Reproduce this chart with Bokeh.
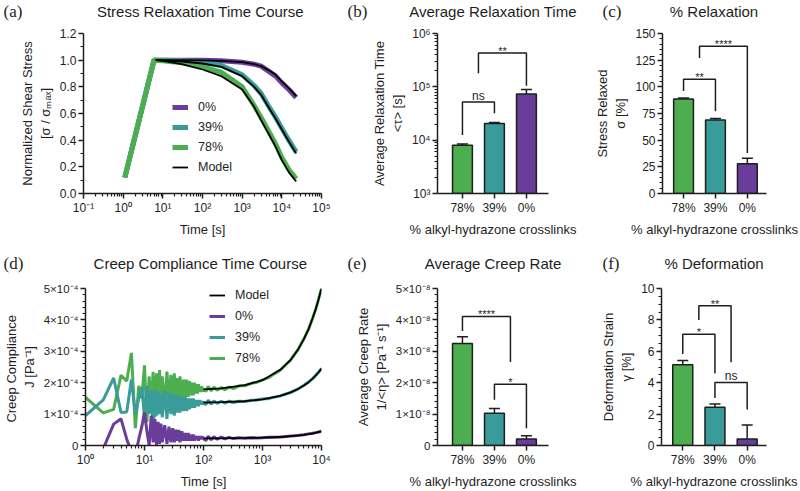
from bokeh.plotting import figure
from bokeh.layouts import row, column
from bokeh.models import (ColumnDataSource, Whisker, TeeHead, FixedTicker,
                          Legend, LegendItem, PrintfTickFormatter)
from bokeh.embed import file_html
from bokeh.resources import INLINE
from bokeh.core.properties import value

FONT = "Liberation Sans"
SERIF = "Liberation Serif"
PURPLE = "#6B3D9A"
TEAL = "#3A9B9B"
GREEN = "#4DAE4F"
INK = "#1E1E1E"

# ---------------- data ----------------
groups = ["78%", "39%", "0%"]
bar_colors = [GREEN, TEAL, PURPLE]

panel_letters = ["(a)", "(b)", "(c)", "(d)", "(e)", "(f)"]
panel_titles = ["Stress  Relaxation Time Course", "Average Relaxation Time", "% Relaxation",
                "Creep  Compliance Time Course", "Average Creep Rate", "% Deformation"]

# (a) stress relaxation, normalized stress
relax_time = [1.1, 6, 10, 30, 100, 300, 1000, 2000, 3000, 5000, 7000, 10000, 15000, 23000]
relax_0 = [0.12, 1.00, 1.00, 1.00, 1.00, 0.995, 0.985, 0.97, 0.955, 0.91, 0.88, 0.83, 0.78, 0.72]
relax_39 = [0.12, 1.00, 1.00, 0.995, 0.985, 0.96, 0.89, 0.81, 0.75, 0.64, 0.57, 0.49, 0.40, 0.31]
relax_78 = [0.12, 1.00, 0.995, 0.98, 0.95, 0.91, 0.80, 0.66, 0.57, 0.45, 0.37, 0.27, 0.18, 0.11]
relax_model_time = [6.6, 10, 30, 100, 300, 1000, 2000, 3000, 5000, 7000, 10000, 15000, 23000]
relax_model_0 = [1.0, 1.0, 1.0, 0.998, 0.995, 0.985, 0.97, 0.955, 0.92, 0.89, 0.84, 0.79, 0.73]
relax_model_39 = [1.0, 0.998, 0.99, 0.975, 0.95, 0.88, 0.80, 0.74, 0.63, 0.56, 0.48, 0.39, 0.30]
relax_model_78 = [1.0, 0.995, 0.97, 0.93, 0.88, 0.78, 0.65, 0.55, 0.43, 0.35, 0.25, 0.16, 0.09]

# (b) average relaxation time [s]
tau = [8.0e3, 2.05e4, 7.3e4]
tau_err = [8.5e3, 2.15e4, 8.9e4]
tau_brackets = dict(left=[0, 0.5], right=[1, 2], top=[5.2e4, 4.3e5],
                    left_end=[1.25e4, 1.8e5], right_end=[3.2e4, 1.05e5], label=["ns", "**"])

# (c) stress relaxed [%]
relaxed = [88.5, 69.0, 28.0]
relaxed_err = [89.5, 70.3, 33.0]
relaxed_brackets = dict(left=[0, 0.5], right=[1, 2], top=[107, 138],
                        left_end=[96, 127], right_end=[77, 38], label=["**", "****"])

# (d) creep compliance [x1e-4 Pa^-1]
creep_time = [1, 2, 3, 4, 5, 6, 7, 8, 9, 10, 11, 12, 13, 14, 15, 16, 17, 18, 19, 20,
              22, 24, 26, 28, 30, 32, 34, 36, 38, 40,
              43, 46, 49, 52, 55, 58, 61, 64, 67, 70, 73, 76, 79, 82, 85, 88, 91, 94, 97,
              100, 110, 120, 135, 150, 170, 200, 230, 270, 320, 400, 500, 650, 800, 1000,
              1300, 1600, 2000, 2500, 3000, 3500, 4000, 5000, 6000, 7000, 8000, 9000, 10000]
creep_78 = [1.53, 1.04, 1.15, 2.24, 2.05, 2.95, 0.55, 1.90, 1.50, 2.55, 0.75, 2.20, 1.20, 2.35, 0.90, 2.30, 1.10, 2.40, 1.30, 2.20,
            1.20, 2.35, 1.30, 2.25, 1.40, 2.30, 1.35, 2.15, 1.50, 2.20,
            1.45, 2.10, 1.50, 2.10, 1.55, 2.05, 1.60, 2.00, 1.60, 2.00, 1.65, 1.95, 1.65, 1.95, 1.70, 1.90, 1.70, 1.88, 1.72,
            1.80, 1.72, 1.88, 1.74, 1.86, 1.76, 1.85, 1.78, 1.86, 1.81, 1.90, 1.90, 1.98, 2.01, 2.09,
            2.17, 2.29, 2.40, 2.58, 2.72, 2.90, 3.05, 3.39, 3.69, 4.04, 4.34, 4.69, 5.00]
creep_39 = [0.95, 1.45, 2.15, 1.05, 1.07, 2.10, 1.00, 1.50, 1.85, 0.90, 1.90, 1.00, 1.75, 0.65, 1.80, 0.95, 1.70, 1.00, 1.65, 0.90,
            1.75, 0.85, 1.70, 1.00, 1.65, 0.95, 1.60, 1.05, 1.60, 1.05,
            1.55, 1.10, 1.55, 1.10, 1.50, 1.15, 1.50, 1.20, 1.50, 1.20, 1.45, 1.25, 1.45, 1.25, 1.45, 1.30, 1.42, 1.30, 1.40,
            1.35, 1.30, 1.44, 1.32, 1.42, 1.34, 1.41, 1.35, 1.41, 1.37, 1.41, 1.40, 1.44, 1.45, 1.48,
            1.50, 1.54, 1.58, 1.64, 1.69, 1.75, 1.80, 1.91, 2.02, 2.12, 2.24, 2.34, 2.46]
creep_0 = [-0.50, -0.10, 0.68, 0.85, 0.20, -0.20, -0.30, 0.20, 0.60, 1.05, 0.45, 0.00, 0.95, 0.10, 0.85, 0.00, 0.75, 0.05, 0.70, 0.10,
           0.65, 0.05, 0.60, 0.10, 0.55, 0.10, 0.50, 0.15, 0.50, 0.10,
           0.45, 0.15, 0.40, 0.15, 0.40, 0.15, 0.35, 0.15, 0.35, 0.15, 0.30, 0.20, 0.30, 0.15, 0.30, 0.20, 0.30, 0.20, 0.28,
           0.22, 0.16, 0.30, 0.18, 0.28, 0.20, 0.27, 0.21, 0.26, 0.22, 0.25, 0.23, 0.25, 0.24, 0.25,
           0.26, 0.26, 0.27, 0.29, 0.30, 0.31, 0.32, 0.34, 0.37, 0.39, 0.41, 0.43, 0.46]
creep_model_time = [100, 200, 500, 1000, 2000, 3000, 4000, 5000, 6000, 7000, 8000, 9000, 10000]
creep_model_78 = [1.79, 1.82, 1.92, 2.08, 2.41, 2.73, 3.06, 3.38, 3.70, 4.03, 4.35, 4.68, 5.00]
creep_model_39 = [1.37, 1.38, 1.41, 1.47, 1.58, 1.69, 1.80, 1.91, 2.01, 2.12, 2.23, 2.34, 2.45]
creep_model_0 = [0.23, 0.23, 0.24, 0.25, 0.27, 0.30, 0.32, 0.34, 0.36, 0.38, 0.41, 0.43, 0.45]

# (e) average creep rate [x1e-8 Pa^-1 s^-1]
creep_rate = [3.25, 1.03, 0.21]
creep_rate_err = [3.46, 1.18, 0.31]
rate_brackets = dict(left=[0, 1], right=[1.5, 2], top=[4.11, 1.95],
                     left_end=[3.65, 1.46], right_end=[2.66, 0.55], label=["****", "*"])

# (f) deformation strain [%]
strain = [5.15, 2.44, 0.42]
strain_err = [5.42, 2.65, 1.31]
strain_brackets = dict(left=[0, 0.5, 1], right=[1, 1.5, 2], top=[7.08, 8.9, 4.02],
                       left_end=[5.83, 8.0, 3.02], right_end=[4.58, 5.3, 2.3], label=["*", "**", "ns"])

SUP = str.maketrans("-0123456789", "⁻⁰¹²³⁴⁵⁶⁷⁸⁹")


def sup(s):
    return str(s).translate(SUP)


# ---------------- layout constants (pixels) ----------------
COL_LEFT = [83, 97, 69]      # left borders of the three columns
COL_FRAME = [238, 111, 105]  # frame widths
COL_RIGHT = [19, 44, 34]     # right borders
COL_W = [l + f + r for l, f, r in zip(COL_LEFT, COL_FRAME, COL_RIGHT)]
COL_X = [0, COL_W[0], COL_W[0] + COL_W[1]]
LETTER_DX = [3, 7, 10]
HEAD1_H, HEAD2_H = 22, 31
ROW1 = (11, 160, 51)   # top border, frame height, bottom border
ROW2 = (13, 158, 45)


# ---------------- helpers ----------------
def make_fig(col, rowspec, **kw):
    top, fh, bottom = rowspec
    p = figure(width=COL_W[col], height=top + fh + bottom, output_backend="svg", toolbar_location=None,
               min_border_left=COL_LEFT[col], min_border_right=COL_RIGHT[col], min_border_top=top,
               min_border_bottom=bottom, **kw)
    p.outline_line_color = None
    p.xgrid.visible = False
    p.ygrid.visible = False
    for ax in p.axis:
        ax.axis_line_color = INK
        ax.axis_line_width = 1.5
        ax.major_tick_line_color = INK
        ax.major_tick_line_width = 1.5
        ax.minor_tick_line_color = INK
        ax.minor_tick_line_width = 1.2
        ax.major_tick_in = 0
        ax.major_tick_out = 5
        ax.minor_tick_in = 0
        ax.minor_tick_out = 3
        ax.major_label_text_font = FONT
        ax.major_label_text_font_size = "12px"
        ax.major_label_text_color = INK
        ax.major_label_standoff = 2
        ax.axis_label_text_font = FONT
        ax.axis_label_text_font_size = "13px"
        ax.axis_label_text_font_style = "normal"
        ax.axis_label_text_color = INK
        ax.axis_label_standoff = 4
    return p


def heading_strip(height, letters, titles, center_from_top):
    h = figure(width=sum(COL_W), height=height, x_range=(0, sum(COL_W)), y_range=(0, height),
               output_backend="svg", toolbar_location=None, min_border=0,
               x_axis_location=None, y_axis_location=None)
    h.outline_line_color = None
    h.xgrid.visible = False
    h.ygrid.visible = False
    yc = height - center_from_top
    h.text(x=[cx + dx for cx, dx in zip(COL_X, LETTER_DX)], y=[yc] * 3, text=letters,
           text_font=value(SERIF), text_font_size=value("17px"), text_color=INK,
           text_align="left", text_baseline="middle")
    h.text(x=[cx + l + f / 2 for cx, l, f in zip(COL_X, COL_LEFT, COL_FRAME)], y=[yc] * 3, text=titles,
           text_font=value(FONT), text_font_size=value("15px"), text_color=INK,
           text_align="center", text_baseline="middle")
    return h


def bars(p, vals, errs, bottom):
    src = ColumnDataSource(dict(x=[0, 1, 2], top=vals, err=errs, color=bar_colors))
    p.vbar(x="x", top="top", bottom=bottom, width=0.62, source=src, fill_color="color",
           line_color=INK, line_width=1.5)
    p.add_layout(Whisker(source=src, base="x", lower="top", upper="err", line_color=INK,
                         line_width=1.5, lower_head=None,
                         upper_head=TeeHead(size=11, line_color=INK, line_width=1.5)))
    p.xaxis.ticker = FixedTicker(ticks=[0, 1, 2])
    p.xaxis.major_label_overrides = {i: g for i, g in enumerate(groups)}
    p.xaxis.axis_label = "% alkyl-hydrazone crosslinks"


def brackets(p, br):
    xs = [[l, l, r, r] for l, r in zip(br["left"], br["right"])]
    ys = [[le, t, t, re] for le, t, re in zip(br["left_end"], br["top"], br["right_end"])]
    p.multi_line(xs=xs, ys=ys, line_color=INK, line_width=1.5)
    for l, r, t, lab in zip(br["left"], br["right"], br["top"], br["label"]):
        p.text(x=[(l + r) / 2], y=[t], text=[lab], text_align="center",
               text_baseline="alphabetic", y_offset=-6 if lab == "ns" else -2,
               text_font=value(FONT),
               text_font_size=value("12px" if lab == "ns" else "11px"), text_color=INK)


def style_legend(leg, loc, spacing):
    leg.location = loc
    leg.background_fill_alpha = 0
    leg.border_line_alpha = 0
    leg.padding = 0
    leg.margin = 0
    leg.spacing = spacing
    leg.label_height = 18
    leg.glyph_height = 18
    leg.glyph_width = 16
    leg.label_standoff = 10
    leg.label_text_font = FONT
    leg.label_text_font_size = "12.5px"
    leg.label_text_color = INK


# ---------------- (a) ----------------
pa = make_fig(0, ROW1, x_axis_type="log", x_range=(0.1, 1e5), y_range=(0, 1.2))
a_decades = [-1, 0, 1, 2, 3, 4, 5]
pa.xaxis.ticker = FixedTicker(ticks=[10.0 ** e for e in a_decades],
                              minor_ticks=[m * 10.0 ** e for e in a_decades[:-1] for m in range(2, 10)])
pa.xaxis.major_label_overrides = {10.0 ** e: "10" + sup(e) for e in a_decades}
pa.yaxis.ticker = FixedTicker(ticks=[i / 10 for i in range(0, 13, 2)],
                              minor_ticks=[i / 10 for i in range(1, 12, 2)])
pa.yaxis.formatter = PrintfTickFormatter(format="%.1f")
pa.xaxis.axis_label = "Time [s]"
pa.yaxis.axis_label = "Normalized Shear Stress\n[σ / σₘₐₓ]"
r0 = pa.line(relax_time, relax_0, line_color=PURPLE, line_width=5)
r39 = pa.line(relax_time, relax_39, line_color=TEAL, line_width=5)
r78 = pa.line(relax_time, relax_78, line_color=GREEN, line_width=5)
rm = None
for ys in (relax_model_0, relax_model_39, relax_model_78):
    rm = pa.line(relax_model_time, ys, line_color="black", line_width=1.8)
leg_a = Legend(items=[LegendItem(label="0%", renderers=[r0]), LegendItem(label="39%", renderers=[r39]),
                      LegendItem(label="78%", renderers=[r78]), LegendItem(label="Model", renderers=[rm])])
style_legend(leg_a, (89, 17), 2)
pa.add_layout(leg_a)

# ---------------- (b) ----------------
pb = make_fig(1, ROW1, y_axis_type="log", x_range=(-0.78, 2.69), y_range=(1e3, 1e6))
b_decades = [3, 4, 5, 6]
pb.yaxis.ticker = FixedTicker(ticks=[10.0 ** e for e in b_decades],
                              minor_ticks=[m * 10.0 ** e for e in b_decades[:-1] for m in range(2, 10)])
pb.yaxis.major_label_overrides = {10.0 ** e: "10" + sup(e) for e in b_decades}
pb.yaxis.axis_label = "Average Relaxation Time\n<τ> [s]"
bars(pb, tau, tau_err, 1e3)
brackets(pb, tau_brackets)

# ---------------- (c) ----------------
pc = make_fig(2, ROW1, x_range=(-0.66, 2.6), y_range=(0, 150))
pc.yaxis.ticker = FixedTicker(ticks=list(range(0, 151, 25)),
                              minor_ticks=[v for v in range(0, 151, 5) if v % 25])
pc.yaxis.axis_label = "Stress Relaxed\nσ [%]"
bars(pc, relaxed, relaxed_err, 0)
brackets(pc, relaxed_brackets)

# ---------------- (d) ----------------
pd_ = make_fig(0, ROW2, x_axis_type="log", x_range=(1, 1e4), y_range=(0, 5))
d_decades = [0, 1, 2, 3, 4]
pd_.xaxis.ticker = FixedTicker(ticks=[10.0 ** e for e in d_decades],
                               minor_ticks=[m * 10.0 ** e for e in d_decades[:-1] for m in range(2, 10)])
pd_.xaxis.major_label_overrides = {10.0 ** e: "10" + sup(e) for e in d_decades}
pd_.yaxis.ticker = FixedTicker(ticks=[0, 1, 2, 3, 4, 5], minor_ticks=[i / 5 for i in range(26) if i % 5])
pd_.yaxis.major_label_overrides = {0: "0", **{k: f"{k}×10" + sup(-4) for k in range(1, 6)}}
pd_.yaxis.major_label_text_font_size = "11.5px"
pd_.xaxis.axis_label = "Time [s]"
pd_.yaxis.axis_label = "Creep  Compliance\nJ [Pa" + sup(-1) + "]"
d78 = pd_.line(creep_time, creep_78, line_color=GREEN, line_width=3)
d39 = pd_.line(creep_time, creep_39, line_color=TEAL, line_width=3)
d0 = pd_.line(creep_time, creep_0, line_color=PURPLE, line_width=3)
dm = None
for ys in (creep_model_78, creep_model_39, creep_model_0):
    dm = pd_.line(creep_model_time, ys, line_color="black", line_width=1.8)
leg_d = Legend(items=[LegendItem(label="Model", renderers=[dm]), LegendItem(label="0%", renderers=[d0]),
                      LegendItem(label="39%", renderers=[d39]), LegendItem(label="78%", renderers=[d78])])
style_legend(leg_d, (124, 78), 3)
pd_.add_layout(leg_d)

# ---------------- (e) ----------------
pe = make_fig(1, ROW2, x_range=(-0.78, 2.69), y_range=(0, 5))
pe.yaxis.ticker = FixedTicker(ticks=[0, 1, 2, 3, 4, 5], minor_ticks=[i / 5 for i in range(26) if i % 5])
pe.yaxis.major_label_overrides = {0: "0", **{k: f"{k}×10" + sup(-8) for k in range(1, 6)}}
pe.yaxis.major_label_text_font_size = "11.5px"
pe.yaxis.axis_label = "Average Creep Rate\n1/<η> [Pa" + sup(-1) + " s" + sup(-1) + "]"
bars(pe, creep_rate, creep_rate_err, 0)
brackets(pe, rate_brackets)

# ---------------- (f) ----------------
pf = make_fig(2, ROW2, x_range=(-0.66, 2.6), y_range=(0, 10))
pf.yaxis.ticker = FixedTicker(ticks=[0, 2, 4, 6, 8, 10], minor_ticks=[i / 2 for i in range(21) if i % 4])
pf.yaxis.axis_label = "Deformation Strain\nγ [%]"
bars(pf, strain, strain_err, 0)
brackets(pf, strain_brackets)

head1 = heading_strip(HEAD1_H, panel_letters[:3], panel_titles[:3], 11)
head2 = heading_strip(HEAD2_H, panel_letters[3:], panel_titles[3:], 19)

layout = column(head1, row(pa, pb, pc, spacing=0), head2, row(pd_, pe, pf, spacing=0), spacing=0)
open("out.html", "w").write(file_html(layout, INLINE))
